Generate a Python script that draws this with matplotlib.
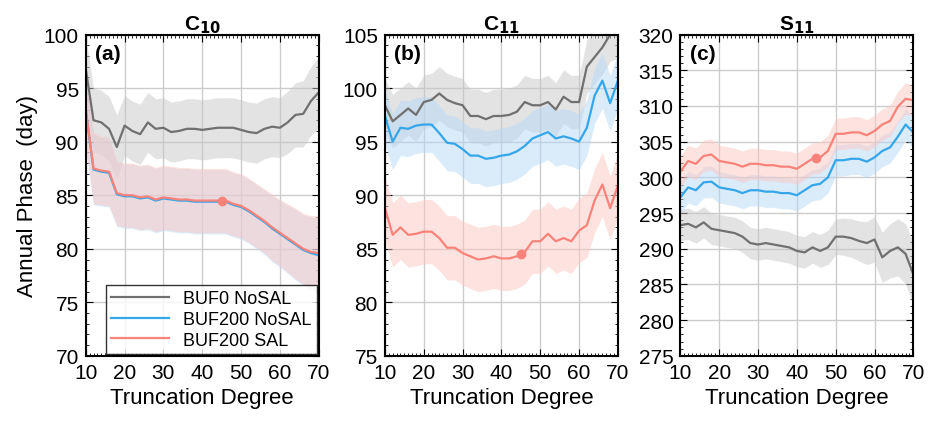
import numpy as np
import matplotlib
matplotlib.use('Agg')
import matplotlib.pyplot as plt
from matplotlib.ticker import MultipleLocator

plt.rcParams['font.family'] = ['Liberation Sans', 'DejaVu Sans']

deg = np.arange(10, 71, 2)

# panel (a) C10
a_buf0 = [96.8, 92.0, 91.8, 91.2, 89.5, 91.5, 91.0, 90.7, 91.8, 91.2, 91.3, 90.9, 91.0, 91.2, 91.2, 91.1,
          91.2, 91.3, 91.3, 91.3, 91.1, 90.9, 90.8, 91.2, 91.4, 91.3, 91.8, 92.5, 92.6, 93.8, 94.6]
a_buf0_err = [3.0, 3.0, 3.0, 3.0, 3.0, 2.8, 2.8, 2.8, 2.8, 2.8, 2.8, 2.8, 2.8, 2.8, 2.8, 2.8,
              2.8, 2.8, 2.8, 2.8, 2.8, 2.8, 2.8, 2.8, 2.8, 2.8, 2.9, 3.0, 3.1, 3.2, 3.3]
a_sal = [93.0, 87.5, 87.3, 87.2, 85.2, 85.0, 85.0, 84.8, 84.9, 84.6, 84.8, 84.7, 84.6, 84.6, 84.5, 84.5,
         84.5, 84.5, 84.5, 84.2, 84.0, 83.6, 83.1, 82.6, 82.0, 81.5, 81.0, 80.5, 80.0, 79.7, 79.6]
a_buf200 = [93.0, 87.4, 87.2, 87.1, 85.1, 84.9, 84.9, 84.7, 84.8, 84.5, 84.7, 84.6, 84.5, 84.5, 84.4, 84.4,
            84.4, 84.4, 84.4, 84.1, 83.9, 83.5, 83.0, 82.5, 81.9, 81.4, 80.9, 80.4, 79.9, 79.6, 79.4]
a_err = [3.5, 3.3, 3.2, 3.2, 3.0, 3.0, 3.0, 3.0, 3.0, 3.0, 3.0, 3.0, 3.0, 3.0, 3.0, 3.0,
         3.0, 3.0, 3.0, 3.0, 3.0, 3.0, 3.0, 3.0, 3.1, 3.1, 3.2, 3.3, 3.3, 3.4, 3.5]

# panel (b) C11
b_buf0 = [98.4, 96.9, 97.5, 98.1, 97.5, 98.7, 98.9, 99.5, 98.9, 98.6, 98.4, 97.4, 97.4, 97.1, 97.4, 97.4,
          97.5, 97.8, 98.7, 98.4, 98.4, 98.7, 98.0, 99.2, 98.7, 98.7, 102.0, 102.9, 103.8, 105.0, 105.3]
b_buf200 = [97.4, 95.0, 96.3, 96.2, 96.5, 96.6, 96.6, 95.8, 94.9, 94.8, 94.3, 93.7, 93.7, 93.4, 93.5, 93.7,
            93.8, 94.1, 94.6, 95.3, 95.6, 95.9, 95.3, 95.5, 95.3, 95.0, 96.3, 99.3, 100.7, 98.6, 100.7]
b_sal = [88.8, 86.3, 87.0, 86.3, 86.4, 86.6, 86.6, 86.0, 85.1, 85.1, 84.6, 84.3, 84.0, 84.1, 84.3, 84.1,
         84.1, 84.3, 84.7, 85.7, 85.7, 86.4, 85.7, 86.0, 85.7, 86.7, 87.2, 89.5, 91.0, 88.8, 90.9]
b_err_gray = [2.5] * 31
b_err_blue = [2.6] * 31
b_err_red = [3.0] * 31

# panel (c) S11
c_buf0 = [293.3, 293.5, 293.0, 293.7, 292.8, 292.6, 292.4, 292.2, 291.7, 290.8, 290.6, 290.8, 290.6, 290.4,
          290.2, 289.7, 289.5, 290.2, 289.7, 290.2, 291.7, 291.7, 291.5, 291.1, 290.8, 291.3, 288.8, 289.7,
          290.2, 289.3, 286.4]
c_buf200 = [297.2, 298.6, 298.2, 299.3, 299.4, 298.6, 298.4, 298.2, 297.8, 298.2, 298.2, 298.0, 298.0, 297.8,
            297.8, 297.5, 298.2, 298.9, 299.1, 300.0, 302.4, 302.4, 302.6, 302.6, 302.2, 302.8, 303.7, 304.2,
            305.7, 307.4, 306.3]
c_sal = [300.8, 302.3, 301.9, 303.0, 303.2, 302.3, 302.1, 301.9, 301.5, 301.9, 301.9, 301.7, 301.7, 301.5,
         301.5, 301.2, 301.9, 302.6, 302.8, 303.7, 306.1, 306.1, 306.3, 306.3, 305.9, 306.5, 307.4, 307.9,
         309.9, 311.0, 310.8]
c_err_gray = [2.2, 2.2, 2.2, 2.2, 2.2, 2.2, 2.2, 2.2, 2.2, 2.2, 2.2, 2.2, 2.2, 2.2, 2.2, 2.2,
              2.2, 2.2, 2.3, 2.4, 2.5, 2.6, 2.7, 2.8, 3.0, 3.2, 3.5, 3.8, 4.0, 4.2, 4.5]
c_err_blue = [2.2] * 31
c_err_red = [2.2] * 31

labels = ['BUF0 NoSAL', 'BUF200 NoSAL', 'BUF200 SAL']
colors = ['#707070', '#35a6ea', '#f9837a']
fills = ['#c8c8c8', '#b6d9f7', '#fdc8c2']
mark_deg = 45

panels = [
    ('C$_{\\mathbf{10}}$', '(a)', (70, 100), [(a_buf0, a_buf0_err), (a_buf200, a_err), (a_sal, a_err)]),
    ('C$_{\\mathbf{11}}$', '(b)', (75, 105), [(b_buf0, b_err_gray), (b_buf200, b_err_blue), (b_sal, b_err_red)]),
    ('S$_{\\mathbf{11}}$', '(c)', (275, 320), [(c_buf0, c_err_gray), (c_buf200, c_err_blue), (c_sal, c_err_red)]),
]

fig = plt.figure(figsize=(9.32, 4.39), dpi=100)
lefts = [0.092, 0.413, 0.730]
for i, (title, tag, ylim, series) in enumerate(panels):
    ax = fig.add_axes([lefts[i], 0.187, 0.25, 0.732])
    for (vals, err), c, fc, lab in zip(series, colors, fills, labels):
        v = np.array(vals)
        e = np.array(err)
        ax.fill_between(deg, v - e, v + e, color=fc, alpha=0.5, lw=0)
        ax.plot(deg, v, color=c, lw=1.6, label=lab)
    sal = np.array(series[2][0])
    ax.plot(mark_deg, np.interp(mark_deg, deg, sal), 'o', color=colors[2], ms=6)
    ax.set_xlim(10, 70)
    ax.set_ylim(*ylim)
    ax.xaxis.set_major_locator(MultipleLocator(10))
    ax.xaxis.set_minor_locator(MultipleLocator(1))
    ax.yaxis.set_major_locator(MultipleLocator(5))
    ax.yaxis.set_minor_locator(MultipleLocator(1))
    ax.grid(True, color='#cccccc', lw=1)
    ax.set_axisbelow(True)
    ax.tick_params(which='both', direction='in', top=True, right=True, labelsize=15)
    ax.tick_params(which='major', length=5, pad=5)
    ax.tick_params(which='minor', length=2.5)
    for s in ax.spines.values():
        s.set_linewidth(1.5)
    ax.set_title(title, fontsize=15, fontweight='bold', pad=4)
    ax.text(0.04, 0.97, tag, transform=ax.transAxes, fontsize=15, fontweight='bold', va='top')
    ax.set_xlabel('Truncation Degree', fontsize=16)
    if i == 0:
        ax.set_ylabel('Annual Phase  (day)', fontsize=16)
        ax.legend(loc='lower right', fontsize=13, frameon=True, fancybox=False, edgecolor='black',
                  handlelength=3.2, borderpad=0.3, labelspacing=0.2, borderaxespad=0.1)

fig.savefig('out.png', dpi=100)
